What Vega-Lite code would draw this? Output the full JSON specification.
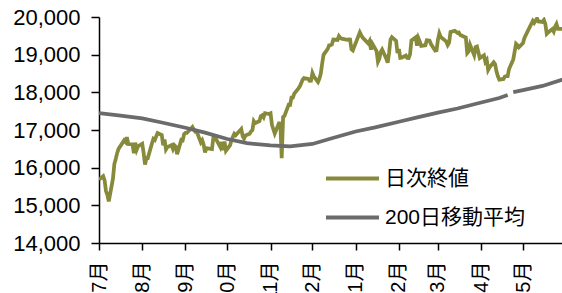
{
  "$schema": "https://vega.github.io/schema/vega-lite/v6.json",
  "autosize": "none",
  "padding": {"left": 99, "top": 17, "right": 0, "bottom": 50},
  "width": 463,
  "height": 226,
  "background": "white",
  "config": {"view": {"stroke": null}, "font": "Liberation Sans, Noto Sans CJK JP"},
  "datasets": {
    "daily": [
      {"d":"2016-07-01","v":15682},{"d":"2016-07-04","v":15775},{"d":"2016-07-05","v":15669},{"d":"2016-07-06","v":15378},{"d":"2016-07-07","v":15276},{"d":"2016-07-08","v":15106},{"d":"2016-07-11","v":15708},{"d":"2016-07-12","v":16095},{"d":"2016-07-13","v":16231},{"d":"2016-07-14","v":16385},{"d":"2016-07-15","v":16497},{"d":"2016-07-19","v":16723},{"d":"2016-07-20","v":16681},{"d":"2016-07-21","v":16810},{"d":"2016-07-22","v":16627},{"d":"2016-07-25","v":16620},{"d":"2016-07-26","v":16383},{"d":"2016-07-27","v":16664},{"d":"2016-07-28","v":16476},{"d":"2016-07-29","v":16569},
      {"d":"2016-08-01","v":16635},{"d":"2016-08-02","v":16391},{"d":"2016-08-03","v":16083},{"d":"2016-08-04","v":16254},{"d":"2016-08-05","v":16254},{"d":"2016-08-08","v":16650},{"d":"2016-08-09","v":16764},{"d":"2016-08-10","v":16735},{"d":"2016-08-12","v":16919},{"d":"2016-08-15","v":16869},{"d":"2016-08-16","v":16596},{"d":"2016-08-17","v":16745},{"d":"2016-08-18","v":16486},{"d":"2016-08-19","v":16545},{"d":"2016-08-22","v":16598},{"d":"2016-08-23","v":16497},{"d":"2016-08-24","v":16597},{"d":"2016-08-25","v":16556},{"d":"2016-08-26","v":16360},{"d":"2016-08-29","v":16737},{"d":"2016-08-30","v":16725},{"d":"2016-08-31","v":16887},
      {"d":"2016-09-01","v":16926},{"d":"2016-09-02","v":16925},{"d":"2016-09-05","v":17037},{"d":"2016-09-06","v":17081},{"d":"2016-09-07","v":17012},{"d":"2016-09-08","v":16958},{"d":"2016-09-09","v":16965},{"d":"2016-09-12","v":16672},{"d":"2016-09-13","v":16729},{"d":"2016-09-14","v":16614},{"d":"2016-09-15","v":16405},{"d":"2016-09-16","v":16519},{"d":"2016-09-20","v":16492},{"d":"2016-09-21","v":16807},{"d":"2016-09-23","v":16754},{"d":"2016-09-26","v":16544},{"d":"2016-09-27","v":16683},{"d":"2016-09-28","v":16465},{"d":"2016-09-29","v":16693},{"d":"2016-09-30","v":16449},
      {"d":"2016-10-03","v":16598},{"d":"2016-10-04","v":16735},{"d":"2016-10-05","v":16819},{"d":"2016-10-06","v":16899},{"d":"2016-10-07","v":16860},{"d":"2016-10-11","v":17024},{"d":"2016-10-12","v":16840},{"d":"2016-10-13","v":16774},{"d":"2016-10-14","v":16856},{"d":"2016-10-17","v":16900},{"d":"2016-10-18","v":16963},{"d":"2016-10-19","v":16998},{"d":"2016-10-20","v":17235},{"d":"2016-10-21","v":17184},{"d":"2016-10-24","v":17234},{"d":"2016-10-25","v":17365},{"d":"2016-10-26","v":17391},{"d":"2016-10-27","v":17336},{"d":"2016-10-28","v":17446},{"d":"2016-10-31","v":17425},
      {"d":"2016-11-01","v":17442},{"d":"2016-11-02","v":17134},{"d":"2016-11-04","v":16905},{"d":"2016-11-07","v":17177},{"d":"2016-11-08","v":17171},{"d":"2016-11-09","v":16251},{"d":"2016-11-10","v":17344},{"d":"2016-11-11","v":17374},{"d":"2016-11-14","v":17672},{"d":"2016-11-15","v":17668},{"d":"2016-11-16","v":17862},{"d":"2016-11-17","v":17862},{"d":"2016-11-18","v":17967},{"d":"2016-11-21","v":18106},{"d":"2016-11-22","v":18162},{"d":"2016-11-24","v":18333},{"d":"2016-11-25","v":18381},{"d":"2016-11-28","v":18356},{"d":"2016-11-29","v":18307},{"d":"2016-11-30","v":18308},
      {"d":"2016-12-01","v":18513},{"d":"2016-12-02","v":18426},{"d":"2016-12-05","v":18274},{"d":"2016-12-06","v":18360},{"d":"2016-12-07","v":18496},{"d":"2016-12-08","v":18765},{"d":"2016-12-09","v":18996},{"d":"2016-12-12","v":19155},{"d":"2016-12-13","v":19250},{"d":"2016-12-14","v":19253},{"d":"2016-12-15","v":19273},{"d":"2016-12-16","v":19401},{"d":"2016-12-19","v":19391},{"d":"2016-12-20","v":19494},{"d":"2016-12-21","v":19444},{"d":"2016-12-22","v":19427},{"d":"2016-12-26","v":19396},{"d":"2016-12-27","v":19403},{"d":"2016-12-28","v":19401},{"d":"2016-12-29","v":19145},{"d":"2016-12-30","v":19114},
      {"d":"2017-01-04","v":19594},{"d":"2017-01-05","v":19520},{"d":"2017-01-06","v":19454},{"d":"2017-01-10","v":19301},{"d":"2017-01-11","v":19364},{"d":"2017-01-12","v":19134},{"d":"2017-01-13","v":19287},{"d":"2017-01-16","v":19095},{"d":"2017-01-17","v":18813},{"d":"2017-01-18","v":18894},{"d":"2017-01-19","v":19072},{"d":"2017-01-20","v":19137},{"d":"2017-01-23","v":18891},{"d":"2017-01-24","v":18787},{"d":"2017-01-25","v":19057},{"d":"2017-01-26","v":19402},{"d":"2017-01-27","v":19467},{"d":"2017-01-30","v":19368},{"d":"2017-01-31","v":19041},
      {"d":"2017-02-01","v":19148},{"d":"2017-02-02","v":18914},{"d":"2017-02-03","v":18918},{"d":"2017-02-06","v":18976},{"d":"2017-02-07","v":18910},{"d":"2017-02-08","v":18908},{"d":"2017-02-09","v":19007},{"d":"2017-02-10","v":19378},{"d":"2017-02-13","v":19459},{"d":"2017-02-14","v":19238},{"d":"2017-02-15","v":19437},{"d":"2017-02-16","v":19347},{"d":"2017-02-17","v":19234},{"d":"2017-02-20","v":19251},{"d":"2017-02-21","v":19381},{"d":"2017-02-22","v":19379},{"d":"2017-02-23","v":19371},{"d":"2017-02-24","v":19283},{"d":"2017-02-27","v":19107},{"d":"2017-02-28","v":19118},
      {"d":"2017-03-01","v":19393},{"d":"2017-03-02","v":19564},{"d":"2017-03-03","v":19469},{"d":"2017-03-06","v":19379},{"d":"2017-03-07","v":19344},{"d":"2017-03-08","v":19254},{"d":"2017-03-09","v":19318},{"d":"2017-03-10","v":19604},{"d":"2017-03-13","v":19633},{"d":"2017-03-14","v":19609},{"d":"2017-03-15","v":19577},{"d":"2017-03-16","v":19590},{"d":"2017-03-17","v":19521},{"d":"2017-03-21","v":19455},{"d":"2017-03-22","v":19041},{"d":"2017-03-23","v":19085},{"d":"2017-03-24","v":19262},{"d":"2017-03-27","v":18986},{"d":"2017-03-28","v":19202},{"d":"2017-03-29","v":19217},{"d":"2017-03-30","v":19063},{"d":"2017-03-31","v":18909},
      {"d":"2017-04-03","v":18983},{"d":"2017-04-04","v":18810},{"d":"2017-04-05","v":18861},{"d":"2017-04-06","v":18597},{"d":"2017-04-07","v":18665},{"d":"2017-04-10","v":18797},{"d":"2017-04-11","v":18747},{"d":"2017-04-12","v":18552},{"d":"2017-04-13","v":18426},{"d":"2017-04-14","v":18335},{"d":"2017-04-17","v":18355},{"d":"2017-04-18","v":18418},{"d":"2017-04-19","v":18432},{"d":"2017-04-20","v":18430},{"d":"2017-04-21","v":18620},{"d":"2017-04-24","v":18875},{"d":"2017-04-25","v":19079},{"d":"2017-04-26","v":19289},{"d":"2017-04-27","v":19252},{"d":"2017-04-28","v":19197},
      {"d":"2017-05-01","v":19310},{"d":"2017-05-02","v":19445},{"d":"2017-05-08","v":19895},{"d":"2017-05-09","v":19843},{"d":"2017-05-10","v":19900},{"d":"2017-05-11","v":19961},{"d":"2017-05-12","v":19883},{"d":"2017-05-15","v":19869},{"d":"2017-05-16","v":19919},{"d":"2017-05-17","v":19814},{"d":"2017-05-18","v":19553},{"d":"2017-05-19","v":19590},{"d":"2017-05-22","v":19678},{"d":"2017-05-23","v":19613},{"d":"2017-05-24","v":19742},{"d":"2017-05-25","v":19813},{"d":"2017-05-26","v":19686},{"d":"2017-05-29","v":19682},{"d":"2017-05-30","v":19677},{"d":"2017-05-31","v":19650}
    ],
    "ma": [
      {"d":"2016-07-01","v":17450},{"d":"2016-07-15","v":17390},{"d":"2016-08-01","v":17310},{"d":"2016-08-15","v":17200},{"d":"2016-09-01","v":17060},{"d":"2016-09-15","v":16930},{"d":"2016-10-01","v":16760},{"d":"2016-10-15","v":16650},{"d":"2016-11-01","v":16590},{"d":"2016-11-15","v":16565},{"d":"2016-12-01","v":16630},{"d":"2016-12-15","v":16780},{"d":"2017-01-01","v":16960},{"d":"2017-01-15","v":17070},{"d":"2017-02-01","v":17220},{"d":"2017-02-15","v":17340},{"d":"2017-03-01","v":17460},{"d":"2017-03-15","v":17570},{"d":"2017-04-01","v":17730},{"d":"2017-04-14","v":17850},{"d":"2017-04-20","v":17930},{"d":"2017-04-21","v":null},{"d":"2017-04-24","v":18005},{"d":"2017-05-01","v":18060},{"d":"2017-05-15","v":18170},{"d":"2017-05-31","v":18360},{"d":"2017-06-15","v":18480}
    ]
  },
  "layer": [
    {
      "data": {"name": "daily"},
      "transform": [{"calculate": "'日次終値'", "as": "s"}],
      "mark": {"type": "line", "clip": true, "strokeWidth": 3.75, "invalid": "break-paths-filter-domains"},
      "encoding": {}
    },
    {
      "data": {"name": "ma"},
      "transform": [{"calculate": "'200日移動平均'", "as": "s"}],
      "mark": {"type": "line", "clip": true, "strokeWidth": 3.75, "invalid": "break-paths-filter-domains"},
      "encoding": {}
    }
  ],
  "encoding": {
    "x": {
      "field": "d", "type": "temporal",
      "scale": {"type": "utc", "domain": [{"year": 2016, "month": 7, "date": 1, "utc": true}, {"year": 2017, "month": 5, "date": 28, "hours": 22, "minutes": 48, "utc": true}], "nice": false},
      "axis": {
        "title": null, "grid": false,
        "values": [
          {"year": 2016, "month": 7, "date": 1, "utc": true}, {"year": 2016, "month": 8, "date": 1, "utc": true}, {"year": 2016, "month": 9, "date": 1, "utc": true}, {"year": 2016, "month": 10, "date": 1, "utc": true}, {"year": 2016, "month": 11, "date": 1, "utc": true}, {"year": 2016, "month": 12, "date": 1, "utc": true},
          {"year": 2017, "month": 1, "date": 1, "utc": true}, {"year": 2017, "month": 2, "date": 1, "utc": true}, {"year": 2017, "month": 3, "date": 1, "utc": true}, {"year": 2017, "month": 4, "date": 1, "utc": true}, {"year": 2017, "month": 5, "date": 1, "utc": true}, {"year": 2017, "month": 6, "date": 1, "utc": true}
        ],
        "labelExpr": "(utcmonth(datum.value) + 1) + '月'",
        "labelAngle": 270, "labelFontSize": 20, "labelColor": "black",
        "labelFont": "Liberation Sans, Noto Sans CJK JP",
        "labelPadding": 11, "tickSize": 7, "tickColor": "black", "tickWidth": 1.5,
        "domainColor": "black", "domainWidth": 1.5, "labelOverlap": false, "labelBound": false, "labelFlush": false
      }
    },
    "y": {
      "field": "v", "type": "quantitative",
      "scale": {"domain": [14000, 20000], "nice": false, "zero": false},
      "axis": {
        "title": null, "grid": false, "values": [14000, 15000, 16000, 17000, 18000, 19000, 20000],
        "format": ",d", "labelFontSize": 22, "labelColor": "black", "labelFont": "Liberation Sans",
        "labelPadding": 11, "tickSize": 8, "tickColor": "black", "tickWidth": 1.5,
        "domainColor": "black", "domainWidth": 1.5, "labelOverlap": false, "labelFlush": false
      }
    },
    "color": {
      "field": "s", "type": "nominal",
      "scale": {"domain": ["日次終値", "200日移動平均"], "range": ["#878A3A", "#6B6B6B"]},
      "legend": {
        "orient": "none", "legendX": 225, "legendY": 133, "title": null,
        "symbolType": "stroke", "symbolSize": 2809, "symbolStrokeWidth": 4,
        "labelFontSize": 21, "labelColor": "black", "labelFont": "Liberation Sans, Noto Sans CJK JP",
        "labelOffset": 4, "padding": 0, "rowPadding": -6
      }
    }
  }
}
